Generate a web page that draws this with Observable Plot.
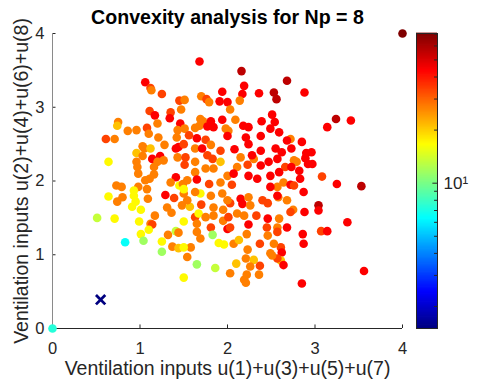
<!DOCTYPE html>
<html><head><meta charset="utf-8">
<script src="https://cdn.jsdelivr.net/npm/d3@7"></script>
<script src="https://cdn.jsdelivr.net/npm/@observablehq/plot@0.6"></script>
<style>
body{margin:0;background:#fff;}
#wrap{position:relative;width:478px;height:387px;overflow:hidden;font-family:"Liberation Sans",Arial,sans-serif;}
#wrap svg{position:absolute;top:0;}
</style></head><body><div id="wrap"></div>
<script>
// ---- data ----
const titleText = "Convexity analysis for Np = 8";
const xLabel = "Ventilation inputs u(1)+u(3)+u(5)+u(7)";
const yLabel = "Ventilation inputs u(2)+u(4)+u(6)+u(8)";
const xTicks = [0, 1, 2, 3, 4];
const yTicks = [0, 1, 2, 3, 4];
const colorDomain = [1.5, 70.6];
const cbarMajor = [10];
const cbarMajorLabels = ["10\u00B9"];
const cbarMinor = [2, 3, 4, 5, 6, 7, 8, 9, 20, 30, 40, 50, 60, 70];

const sumOdd = [
 1.06,1.12,1.13,1.25,1.45,1.11,1.17,1.35,1.34,1.47,
 0.75,0.74,1.20,1.46,1.08,0.96,0.86,1.43,1.68,2.16,
 2.19,1.94,2.17,2.36,2.53,2.56,1.70,1.76,1.79,1.51,
 1.91,2.00,2.14,2.03,2.51,2.54,2.39,1.69,1.72,1.68,
 1.81,1.94,2.09,2.18,2.24,1.98,1.84,1.77,2.68,2.88,
 3.24,3.41,3.14,2.72,2.68,2.85,2.73,2.62,2.96,2.90,
 2.89,2.97,2.92,2.57,2.76,2.79,2.66,2.82,2.73,2.59,
 3.08,2.83,2.64,2.72,2.76,2.57,3.25,3.53,2.87,2.58,
 2.68,3.04,3.04,2.75,2.72,2.88,2.59,3.37,2.68,2.57,
 3.07,3.14,2.86,2.87,2.61,2.62,2.61,2.64,3.56,2.85,
 1.10,0.61,0.71,1.21,1.28,1.42,1.41,1.44,1.43,1.03,
 1.05,1.12,0.96,1.03,1.14,1.23,1.27,1.20,0.64,0.96,
 0.97,1.16,0.98,1.11,1.16,1.06,1.41,1.35,1.45,1.49,
 0.73,0.79,0.98,1.08,0.93,0.93,0.80,0.64,1.29,1.39,
 1.09,0.74,0.95,1.50,0.51,0.71,0.91,1.01,1.31,1.36,
 1.48,1.17,0.99,1.12,1.14,1.50,1.10,1.01,1.41,1.44,
 1.32,0.83,1.04,1.25,1.37,1.44,1.25,1.50,1.57,1.70,
 1.84,1.95,2.03,2.17,2.26,2.46,1.63,1.67,1.75,1.84,
 1.95,2.01,2.11,2.19,2.33,2.46,1.65,1.81,2.00,2.03,
 2.24,2.45,1.65,1.83,1.69,1.90,1.96,2.07,2.13,2.22,
 2.37,2.46,2.57,2.53,1.58,1.50,2.23,2.49,1.54,2.21,
 2.30,2.57,1.65,1.86,2.10,2.26,2.37,2.03,2.22,2.36,
 2.19,2.21,2.51,1.51,1.63,2.01,2.49,2.59,1.56,1.65,
 1.75,2.00,2.21,2.38,1.50,1.63,1.71,1.81,1.92,2.08,
 2.24,2.38,2.55,1.52,1.77,1.83,1.92,2.15,2.30,2.28,
 1.51,1.63,1.75,1.84,2.11,2.23,2.38,2.47,1.63,2.00,
 2.07,2.24,2.49,1.54,1.65,1.79,1.92,2.05,2.34,2.49,
 1.50,1.69,1.63,1.81,1.94,2.15,2.24,2.40,2.57,1.54,
 2.00,0.00,4.00
];
const sumEven = [
 3.34,3.26,3.23,3.18,3.09,2.95,2.89,2.93,2.85,2.97,
 2.80,2.75,2.78,2.78,2.72,2.69,2.68,2.69,3.62,3.49,
 3.29,3.21,3.18,3.19,3.20,3.11,3.15,3.11,3.07,3.10,
 3.08,3.07,3.09,2.97,2.90,2.80,2.81,2.84,2.81,2.75,
 2.81,2.83,2.83,2.75,2.73,2.71,2.73,2.74,3.36,3.20,
 2.84,2.82,2.73,2.57,2.55,2.53,2.44,2.39,2.39,2.38,
 2.31,2.23,2.23,2.30,2.28,2.26,2.19,2.14,2.19,2.12,
 2.06,2.03,1.98,1.95,1.94,1.92,1.96,1.93,1.85,1.78,
 1.74,1.67,1.60,1.61,1.58,1.58,1.49,1.44,1.37,1.37,
 1.32,1.32,1.28,1.15,1.10,1.03,0.92,0.86,0.78,0.61,
 2.64,2.57,2.57,2.59,2.49,2.59,2.44,2.46,2.32,2.47,
 2.44,2.44,2.38,2.34,2.30,2.34,2.28,2.26,2.26,2.26,
 2.19,2.19,2.10,2.03,2.09,2.01,2.05,1.98,1.94,1.96,
 1.94,1.92,1.92,1.89,1.87,1.80,1.78,1.79,1.81,1.77,
 1.76,1.72,1.72,1.83,1.50,1.49,1.65,1.61,1.64,1.57,
 1.67,1.53,1.45,1.42,1.41,1.45,1.34,1.28,1.32,1.30,
 1.27,1.17,1.19,1.18,1.11,1.09,1.04,0.69,1.65,1.68,
 1.64,1.61,1.70,1.69,1.67,1.70,1.51,1.56,1.51,1.53,
 1.46,1.51,1.56,1.53,1.53,1.49,1.42,1.37,1.35,1.37,
 1.41,1.37,1.31,1.27,1.22,1.16,1.14,1.15,1.20,1.28,
 1.15,1.26,1.31,1.15,1.10,1.10,1.07,1.02,0.97,0.95,
 0.93,0.95,0.87,0.82,0.88,0.84,0.85,0.75,0.73,0.73,
 0.66,0.62,0.99,2.71,2.72,2.68,2.71,2.66,2.62,2.58,
 2.56,2.61,2.59,2.61,2.50,2.44,2.44,2.49,2.41,2.43,
 2.50,2.41,2.44,2.32,2.35,2.30,2.26,2.32,2.30,2.35,
 2.22,2.26,2.17,2.17,2.19,2.22,2.21,2.26,2.12,2.07,
 2.10,2.07,2.07,2.01,2.02,1.96,1.98,1.95,2.03,1.92,
 1.89,1.83,1.85,1.80,1.83,1.76,1.78,1.74,1.80,1.74,
 1.74,0.00,4.00
];
const costValue = [
 44,34,27,34,34,34,44,34,44,27,
 27,21,27,44,34,27,27,27,44,56,
 44,44,44,44,56,56,27,34,27,27,
 44,44,27,27,44,44,44,27,27,27,
 44,44,27,44,44,27,44,44,56,44,
 56,44,44,27,44,44,44,44,44,44,
 44,44,44,44,27,27,34,44,44,44,
 34,44,27,44,34,27,44,56,44,27,
 27,56,44,27,34,44,27,44,44,27,
 34,44,44,44,34,44,21,44,44,44,
 27,34,27,27,27,27,44,44,27,27,
 27,21,21,27,44,44,27,27,17,27,
 27,27,27,27,27,27,44,27,17,27,
 27,27,27,27,17,17,27,17,44,34,
 27,27,17,27,13.4,17,17,17,27,27,
 27,27,17,27,34,17,17,17,13.4,27,
 27,6.5,11.6,17,27,21,11.6,17,21,34,
 27,27,34,44,27,34,34,17,27,27,
 27,34,27,27,34,44,27,34,44,34,
 44,34,27,11.6,27,17,17,27,21,27,
 34,27,34,27,27,17,27,27,27,27,
 21,34,11.6,13.4,21,27,34,27,27,27,
 27,27,27,27,27,27,44,44,34,44,
 34,44,44,44,34,27,44,27,34,44,
 44,44,44,34,34,34,21,27,27,44,
 34,27,27,27,27,34,44,44,27,27,
 44,44,44,27,44,34,27,34,44,44,
 17,17,27,27,27,44,27,34,44,27,
 27,7.3,70.6
];
const crossX = [0.55];
const crossY = [0.39];
const crossValue = [1.5];

// ---- jet colormap ----
function jet(t) {
  const c = v => Math.max(0, Math.min(1, v));
  const r = c(1.5 - Math.abs(4 * t - 3));
  const g = c(1.5 - Math.abs(4 * t - 2));
  const b = c(1.5 - Math.abs(4 * t - 1));
  return `rgb(${Math.round(r * 255)},${Math.round(g * 255)},${Math.round(b * 255)})`;
}
const colorScale = {type: "log", domain: colorDomain, interpolate: jet, clamp: true};
const ink = "#262626";
const fontFamily = "'Liberation Sans', Arial, sans-serif";

const pts = sumOdd.map((x, i) => ({x, y: sumEven[i], c: costValue[i]}));
const cross = crossX.map((x, i) => ({x, y: crossY[i], c: crossValue[i]}));

const main = Plot.plot({
  width: 478, height: 387,
  marginLeft: 52, marginRight: 76, marginTop: 33, marginBottom: 59,
  style: {fontFamily, fontSize: "16.5px", color: ink, background: "transparent", overflow: "visible"},
  x: {domain: [0, 4], ticks: xTicks, tickSize: 0, tickPadding: 14, label: null, tickFormat: d3.format("d")},
  y: {domain: [0, 4], ticks: yTicks, tickSize: 0, tickPadding: 8, label: null, tickFormat: d3.format("d")},
  color: colorScale,
  marks: [
    Plot.ruleX(xTicks, {y1: 0, y2: 0.048, stroke: ink}),
    Plot.ruleY(yTicks, {x1: 0, x2: 0.04, stroke: ink}),
    Plot.ruleY([0], {stroke: ink}),
    Plot.ruleX([0], {stroke: "#8a8a8a"}),
    Plot.dot(pts, {x: "x", y: "y", fill: "c", r: 4.3}),
    Plot.dot(cross, {x: "x", y: "y", stroke: "c", symbol: "times", r: 4.3, strokeWidth: 2.8}),
    Plot.text([titleText], {frameAnchor: "top", textAnchor: "middle", lineAnchor: "middle", dy: -16, fontSize: 19.6, fontWeight: "bold", fill: "#000"}),
    Plot.text([xLabel], {frameAnchor: "bottom", textAnchor: "middle", lineAnchor: "middle", dy: 40, fontSize: 19.5, fill: ink}),
    Plot.text([yLabel], {frameAnchor: "left", textAnchor: "middle", lineAnchor: "middle", dx: -31, rotate: -90, fontSize: 19.5, fill: ink})
  ]
});
main.style.left = "0px";

const cMin = colorDomain[0], cMax = colorDomain[1];
const nSteps = 256;
const bands = d3.range(nSteps).map(i => ({
  lo: cMin * Math.pow(cMax / cMin, i / nSteps),
  hi: cMin * Math.pow(cMax / cMin, (i + 1) / nSteps)
}));

const cbar = Plot.plot({
  width: 62, height: 387,
  marginLeft: 0, marginRight: 41, marginTop: 33, marginBottom: 59,
  style: {fontFamily, fontSize: "16.5px", color: ink, background: "transparent", overflow: "visible"},
  x: {domain: [0, 1], axis: null},
  y: {type: "log", domain: colorDomain, axis: null},
  color: colorScale,
  marks: [
    Plot.rect(bands, {x1: 0, x2: 1, y1: "lo", y2: "hi", fill: d => Math.sqrt(d.lo * d.hi), insetTop: -0.4, insetBottom: -0.4}),
    Plot.ruleY(cbarMinor, {x1: 0.86, x2: 1, stroke: ink}),
    Plot.ruleY(cbarMajor, {x1: 0.78, x2: 1, stroke: ink}),
    Plot.frame({stroke: ink}),
    Plot.text(cbarMajor, {y: d => d, x: 1, dx: 6, text: (d, i) => cbarMajorLabels[i], textAnchor: "start", fontSize: 17, fill: ink})
  ]
});
cbar.style.left = "416px";

const wrap = document.getElementById("wrap");
wrap.appendChild(main);
wrap.appendChild(cbar);
</script>
</body></html>
